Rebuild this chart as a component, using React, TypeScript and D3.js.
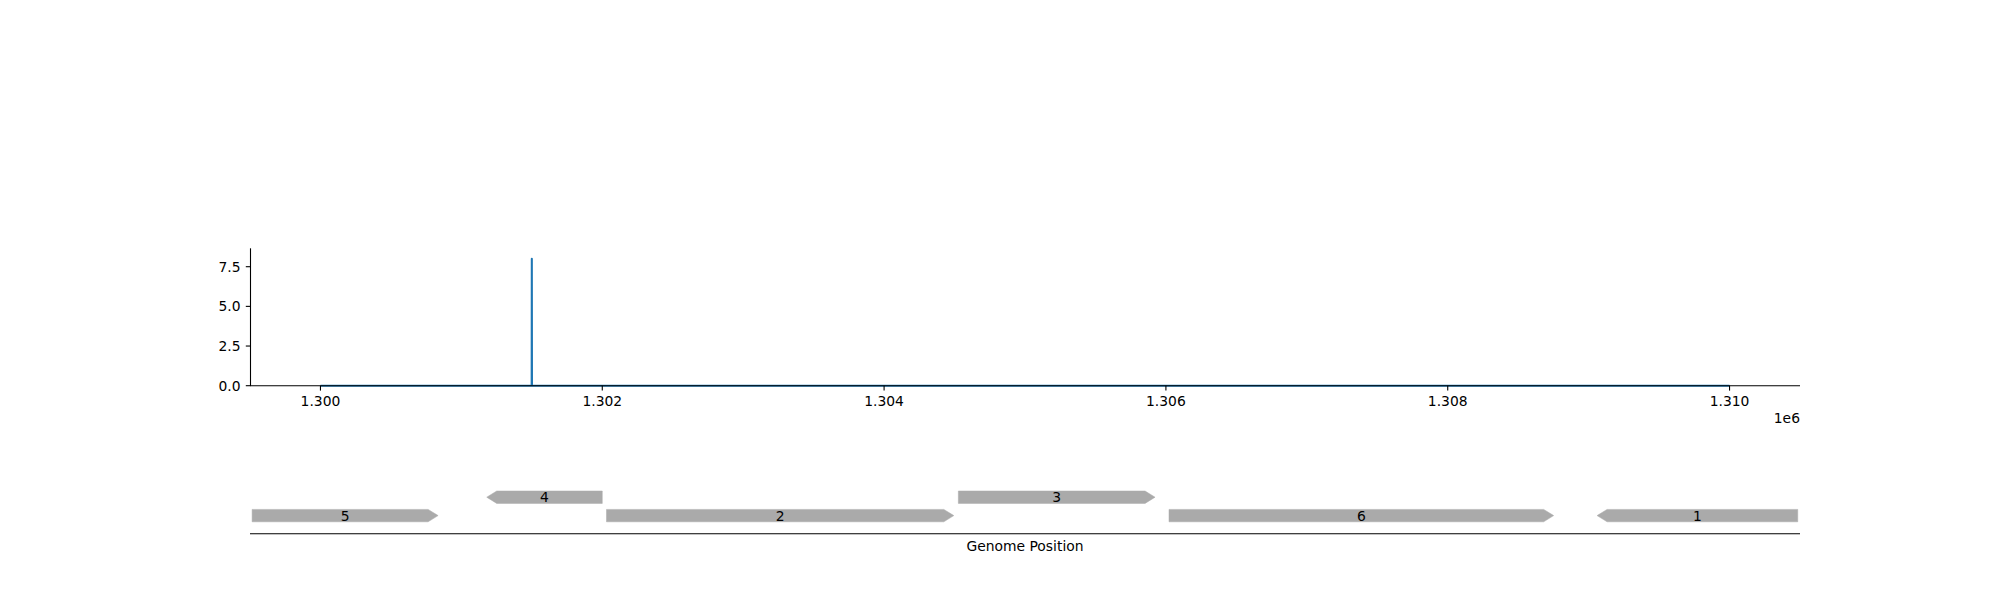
import React from "react";
import * as d3 from "d3";

const positions = [1300000, 1301499, 1301500, 1301501, 1310000];
const coverage = [0, 0, 8, 0, 0];
const xTicks = [1300000, 1302000, 1304000, 1306000, 1308000, 1310000];
const yTicks = [0, 2.5, 5, 7.5];

const geneLabels = ["5", "4", "2", "3", "6", "1"];
const geneStarts = [1299515, 1301180, 1302030, 1304527, 1306022, 1309060];
const geneEnds = [1300835, 1302000, 1304495, 1305923, 1308752, 1310484];
const geneStrands = [1, -1, 1, 1, 1, -1];
const geneLevels = [0, 1, 0, 1, 0, 1 - 1];

const W = 2000;
const H = 600;
const FONT = "DejaVu Sans";
const FS = 13.89;

export default function App() {
  const x = d3.scaleLinear().domain([1299500, 1310500]).range([250, 1800]);
  const y = d3.scaleLinear().domain([0, 8.66]).range([385.7, 248.3]);
  const line = d3
    .line<number>()
    .x((_, i) => x(positions[i]))
    .y((d) => y(d));
  const fmt = d3.format(".3f");
  const rowY = d3.scaleOrdinal<number, number>().domain([0, 1]).range([515.6, 497.2]);
  const halfH = 6.2;
  const head = 10;

  const genePath = (i: number) => {
    const x0 = x(geneStarts[i]);
    const x1 = x(geneEnds[i]);
    const cy = rowY(geneLevels[i]);
    const t = cy - halfH;
    const b = cy + halfH;
    if (geneStrands[i] > 0) {
      return `M${x0},${t}L${x1 - head},${t}L${x1},${cy}L${x1 - head},${b}L${x0},${b}Z`;
    }
    return `M${x0 + head},${t}L${x1},${t}L${x1},${b}L${x0 + head},${b}L${x0},${cy}Z`;
  };

  return (
    <svg width={W} height={H} style={{ display: "block", position: "absolute", left: 0, top: 0 }} fontFamily={FONT}>
      <rect width={W} height={H} fill="white" />
      <path d={line(coverage) || ""} fill="none" stroke="#1f77b4" strokeWidth={2.08} strokeLinejoin="round" />
      <line x1={250.5} x2={250.5} y1={248.3} y2={386} stroke="black" strokeWidth={1.1} />
      <line x1={250} x2={1800} y1={385.7} y2={385.7} stroke="black" strokeWidth={1.1} />
      {xTicks.map((t) => (
        <g key={t}>
          <line x1={x(t)} x2={x(t)} y1={385.7} y2={390.6} stroke="black" strokeWidth={1.1} />
          <text x={x(t)} y={406} textAnchor="middle" fontSize={FS}>
            {fmt(t / 1e6)}
          </text>
        </g>
      ))}
      <text x={1800} y={423.3} textAnchor="end" fontSize={FS}>
        1e6
      </text>
      {yTicks.map((t) => (
        <g key={t}>
          <line x1={245.8} x2={250.5} y1={y(t)} y2={y(t)} stroke="black" strokeWidth={1.1} />
          <text x={240.5} y={y(t)} dy="0.36em" textAnchor="end" fontSize={FS}>
            {d3.format(".1f")(t)}
          </text>
        </g>
      ))}
      {geneLabels.map((lab, i) => (
        <g key={lab}>
          <path d={genePath(i)} fill="#aaaaaa" stroke="#aaaaaa" strokeWidth={0.5} />
          <text
            x={(x(geneStarts[i]) + x(geneEnds[i])) / 2}
            y={rowY(geneLevels[i])}
            dy="0.36em"
            textAnchor="middle"
            fontSize={FS}
          >
            {lab}
          </text>
        </g>
      ))}
      <line x1={250} x2={1800} y1={533.7} y2={533.7} stroke="black" strokeWidth={1.1} />
      <text x={1025} y={551.3} textAnchor="middle" fontSize={FS}>
        Genome Position
      </text>
    </svg>
  );
}
